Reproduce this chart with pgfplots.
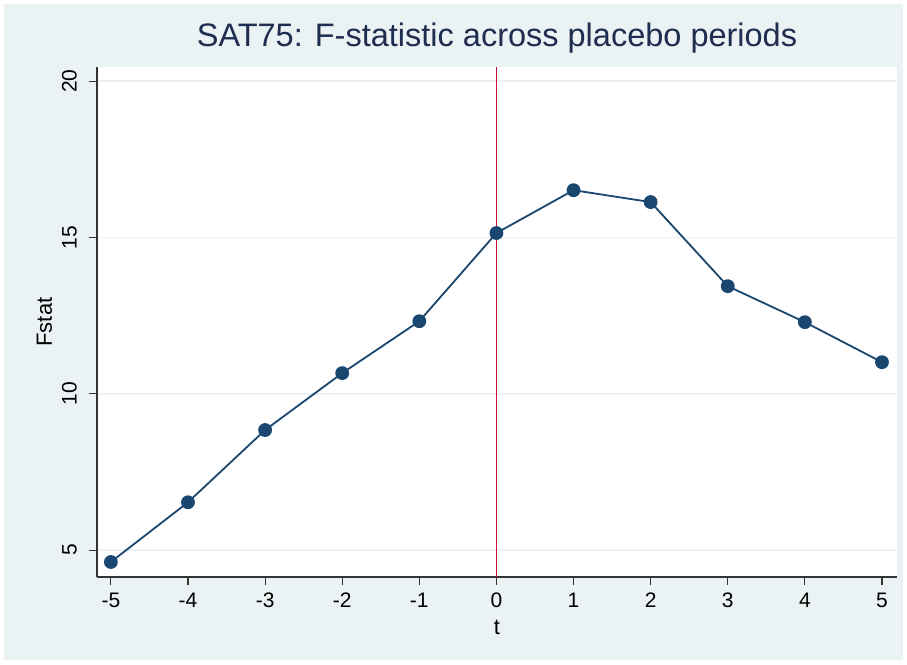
\documentclass[border=0pt]{standalone}
\usepackage{pgfplots}
\pgfplotsset{compat=1.18}
\usepackage{fontspec}
\setmainfont{Liberation Sans}
\definecolor{bgc}{RGB}{234,242,243}
\definecolor{navy}{RGB}{26,71,111}
\definecolor{titlec}{RGB}{30,45,80}
\definecolor{cran}{RGB}{204,16,58}
\definecolor{gridc}{RGB}{234,242,243}
\begin{document}
\begin{tikzpicture}
\fill[white] (-97pt,-87pt) rectangle (810pt,577pt);
\fill[bgc] (-93pt,-83pt) rectangle (806pt,573pt);
\begin{axis}[at={(0,0)}, anchor=south west, scale only axis,
  width=800pt, height=510pt,
  xmin=-5.18, xmax=5.195, ymin=4.14, ymax=20.45,
  axis lines*=left,
  axis line style={line width=1.3pt, black!80},
  axis background/.style={fill=white},
  xtick={-5,...,5}, ytick={5,10,15,20},
  tick align=outside, major tick length=8pt,
  tick style={line width=1.1pt, black!80},
  ymajorgrids, grid style={line width=1.5pt, gridc},
  /pgf/number format/assume math mode=true,
  tick label style={font=\fontsize{21}{24}\selectfont},
  yticklabel style={rotate=90, anchor=south, inner sep=0pt, yshift=12pt},
  xticklabel style={anchor=north, inner sep=0pt, yshift=-8pt},
  title={SAT75: F-statistic across placebo periods},
  title style={at={(0.5,1)}, anchor=base, yshift=14pt, font=\fontsize{32.5}{38}\selectfont, text=titlec},
  xlabel={t}, ylabel={Fstat},
  xlabel style={at={(0.5,0)}, anchor=base, yshift=-57pt, font=\fontsize{22}{26}\selectfont},
  ylabel style={at={(0,0.5)}, anchor=base, yshift=45pt, font=\fontsize{22}{26}\selectfont},
  clip=false,
]
\addplot[cran, line width=1.8pt, forget plot] coordinates {(0,4.14) (0,20.45)};
\addplot[navy, line width=1.8pt, mark=*, mark size=6pt, mark options={fill=navy, draw=navy}] coordinates {
(-5,4.62) (-4,6.53) (-3,8.84) (-2,10.66) (-1,12.32) (0,15.14) (1,16.51) (2,16.13) (3,13.44) (4,12.29) (5,11.01)
};
\end{axis}
\end{tikzpicture}
\end{document}
